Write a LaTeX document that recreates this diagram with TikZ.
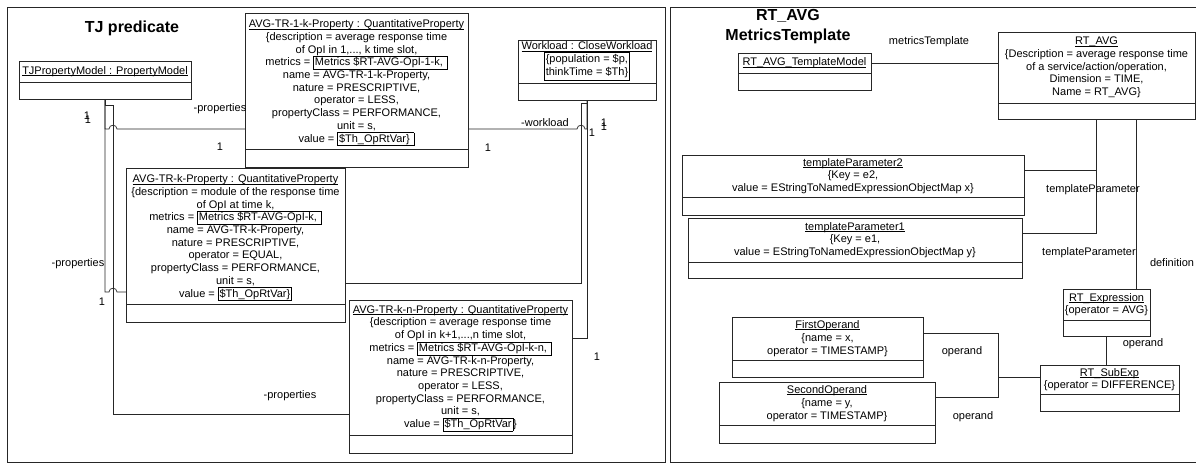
\documentclass[tikz,border=0pt]{standalone}
\usepackage{fontspec}
\setmainfont{Liberation Sans}
\usetikzlibrary{positioning}
\setlength{\fboxsep}{1pt}
\setlength{\fboxrule}{0.6pt}
\newcommand{\ibox}[1]{\smash{\fbox{#1}}}
\newsavebox{\unbox}
\newcommand{\uname}[1]{\sbox{\unbox}{#1}\rlap{\rule[-1.4pt]{\wd\unbox}{0.6pt}}\usebox{\unbox}}

\begin{document}
\begin{tikzpicture}[x=1pt, y=-1pt, line width=0.7pt, draw=black!85,
  obj/.style={draw=black!85, rectangle, outer sep=0pt, inner xsep=1pt, inner ysep=1pt, anchor=north west, align=center, font=\fontsize{11}{12.7}\selectfont},
  objbot/.style={draw=black!85, rectangle, outer sep=0pt, inner sep=0pt},
  lab/.style={font=\fontsize{11}{12.7}\selectfont, inner sep=0pt},
  ttl/.style={font=\fontsize{16}{20}\selectfont\bfseries, align=center, inner sep=0pt}]
\useasboundingbox (0,0) rectangle (1196,464);

% left panel
\draw (7,7) rectangle (665,462);
\node[ttl] (ttlL) at (132,28) {TJ predicate};

\node[obj, minimum width=172, minimum height=21] (tjm) at (19,61) {\uname{TJPropertyModel : PropertyModel}};
\node[objbot, minimum width=172, minimum height=17, below=0pt of tjm] (tjmb) {};

\node[obj, minimum width=223, minimum height=136] (tr1k) at (245,13) {\uname{AVG-TR-1-k-Property : QuantitativeProperty}\\
  \{description = average response time\\
  of OpI in 1,..., k time slot,\\
  metrics = \ibox{Metrics \$RT-AVG-OpI-1-k,\ }\\
  name = AVG-TR-1-k-Property,\\
  nature = PRESCRIPTIVE,\\
  operator = LESS,\\
  propertyClass = PERFORMANCE,\\
  unit = s,\\
  value = \ibox{\$Th\_OpRtVar\}\ }};
\node[objbot, minimum width=223, minimum height=18, below=0pt of tr1k] (tr1kb) {};

\node[obj, minimum width=219, minimum height=136] (trk) at (126,168) {\uname{AVG-TR-k-Property : QuantitativeProperty}\\
  \{description = module of the response time\\
  of OpI at time k,\\
  metrics = \ibox{Metrics \$RT-AVG-OpI-k,\ }\\
  name = AVG-TR-k-Property,\\
  nature = PRESCRIPTIVE,\\
  operator = EQUAL,\\
  propertyClass = PERFORMANCE,\\
  unit = s,\\
  value = \ibox{\$Th\_OpRtVar\}}};
\node[objbot, minimum width=219, minimum height=18, below=0pt of trk] (trkb) {};

\node[obj, minimum width=223, minimum height=135] (trkn) at (349,300) {\uname{AVG-TR-k-n-Property : QuantitativeProperty}\\
  \{description = average response time\\
  of OpI in k+1,...,n time slot,\\
  metrics = \ibox{Metrics \$RT-AVG-OpI-k-n,\ }\\
  name = AVG-TR-k-n-Property,\\
  nature = PRESCRIPTIVE,\\
  operator = LESS,\\
  propertyClass = PERFORMANCE,\\
  unit = s,\\
  value = \ibox{\$Th\_OpRtVar}\}};
\node[objbot, minimum width=223, minimum height=18, below=0pt of trkn] (trknb) {};

\node[obj, minimum width=138, minimum height=43] (wl) at (518,40) {\uname{Workload : CloseWorkload}\\
  \fbox{\begin{tabular}{@{}l@{}}\{population = \$p,\\ thinkTime = \$Th\}\end{tabular}}};
\node[objbot, minimum width=138, minimum height=17, below=0pt of wl] (wlb) {};

% properties
\draw (tjmb.south) -- (105,129) -- (109,129) .. controls (109,124) and (117,124) .. (117,129) -- (tr1k.west |- 0,129);
\draw (tjmb.south) -- (105,292) -- (109,292) .. controls (109,287) and (117,287) .. (117,292) -- (trk.west |- 0,292);
\draw (tjmb.south) -- (105,105) -- (113,105) -- (113,414) -- (trkn.west |- 0,414);
% workload
\draw (tr1k.east |- 0,129) -- (577,129) .. controls (577,124) and (585,124) .. (585,129) -- (587,129) -- (wlb.south);
\draw (trk.east |- 0,283) -- (581,283) -- (581,103) -- (587,103) -- (wlb.south);
\draw (trkn.east |- 0,338) -- (587,338) -- (wlb.south);

\node[lab] (lp1) at (220,109) {-properties};
\node[lab] (lp2) at (78,264) {-properties};
\node[lab] (lp3) at (290,396) {-properties};
\node[lab] (lw1) at (545,123) {-workload};
\node[lab] (m1) at (87,116) {1};
\node[lab] (m2) at (88,120) {1};
\node[lab] (m3) at (220,147) {1};
\node[lab] (m4) at (102,302) {1};
\node[lab] (m5) at (488,148) {1};
\node[lab] (m6) at (592,133) {1};
\node[lab] (m7) at (604,123) {1};
\node[lab] (m8) at (604,127) {1};
\node[lab] (m9) at (597,357) {1};

% right panel
\draw (1196,7) -- (670,7) -- (670,462) -- (1196,462);
\node[ttl] (ttlR) at (788,27) {RT\_AVG\\MetricsTemplate};

\node[obj, minimum width=133, minimum height=20] (tmm) at (738,53) {\uname{RT\_AVG\_TemplateModel}};
\node[objbot, minimum width=133, minimum height=17, below=0pt of tmm] (tmmb) {};

\node[obj, minimum width=197, minimum height=71] (rtavg) at (998,32) {\uname{RT\_AVG}\\
  \{Description = average response time\\
  of a service/action/operation,\\
  Dimension = TIME,\\
  Name = RT\_AVG\}};
\node[objbot, minimum width=197, minimum height=16, below=0pt of rtavg] (rtavgb) {};

\node[obj, minimum width=342, minimum height=42] (tp2) at (682,155) {\uname{templateParameter2}\\
  \{Key = e2,\\
  value = EStringToNamedExpressionObjectMap x\}};
\node[objbot, minimum width=342, minimum height=18, below=0pt of tp2] (tp2b) {};

\node[obj, minimum width=334, minimum height=44] (tp1) at (688,218) {\uname{templateParameter1}\\
  \{Key = e1,\\
  value = EStringToNamedExpressionObjectMap y\}};
\node[objbot, minimum width=334, minimum height=16, below=0pt of tp1] (tp1b) {};

\node[obj, minimum width=87, minimum height=31] (rtexp) at (1063,289) {\uname{RT\_Expression}\\
  \{operator = AVG\}};
\node[objbot, minimum width=87, minimum height=16, below=0pt of rtexp] (rtexpb) {};

\node[obj, minimum width=139, minimum height=29] (sub) at (1040,365) {\uname{RT\_SubExp}\\
  \{operator = DIFFERENCE\}};
\node[objbot, minimum width=139, minimum height=17, below=0pt of sub] (subb) {};

\node[obj, minimum width=191, minimum height=43] (fop) at (732,317) {\uname{FirstOperand}\\
  \{name = x,\\
  operator = TIMESTAMP\}};
\node[objbot, minimum width=191, minimum height=17, below=0pt of fop] (fopb) {};

\node[obj, minimum width=216, minimum height=43] (sop) at (719,382) {\uname{SecondOperand}\\
  \{name = y,\\
  operator = TIMESTAMP\}};
\node[objbot, minimum width=216, minimum height=18, below=0pt of sop] (sopb) {};

\draw (tmm.east) -- (rtavg.west |- tmm.east);
\draw (rtavgb.south -| 1096,0) -- (1096,233) -- (tp1.east |- 0,233);
\draw (1096,170) -- (tp2.east |- 0,170);
\draw (rtavgb.south -| 1136,0) -- (rtexp.north -| 1136,0);
\draw (rtexpb.south) -- (sub.north -| rtexpb.south);
\draw (fop.east |- 0,333) -- (998,333) -- (998,377) -- (sub.west |- 0,377);
\draw (sop.east |- 0,397) -- (998,397) -- (998,377);

\node[lab] (lmt) at (929,42) {metricsTemplate};
\node[lab] (ltp2) at (1093,190) {templateParameter};
\node[lab] (ltp1) at (1089,253) {templateParameter};
\node[lab] (ldef) at (1172,263) {definition};
\node[lab] (lop1) at (1143,344) {operand};
\node[lab] (lop2) at (962,352) {operand};
\node[lab] (lop3) at (973,417) {operand};
\end{tikzpicture}
\end{document}
